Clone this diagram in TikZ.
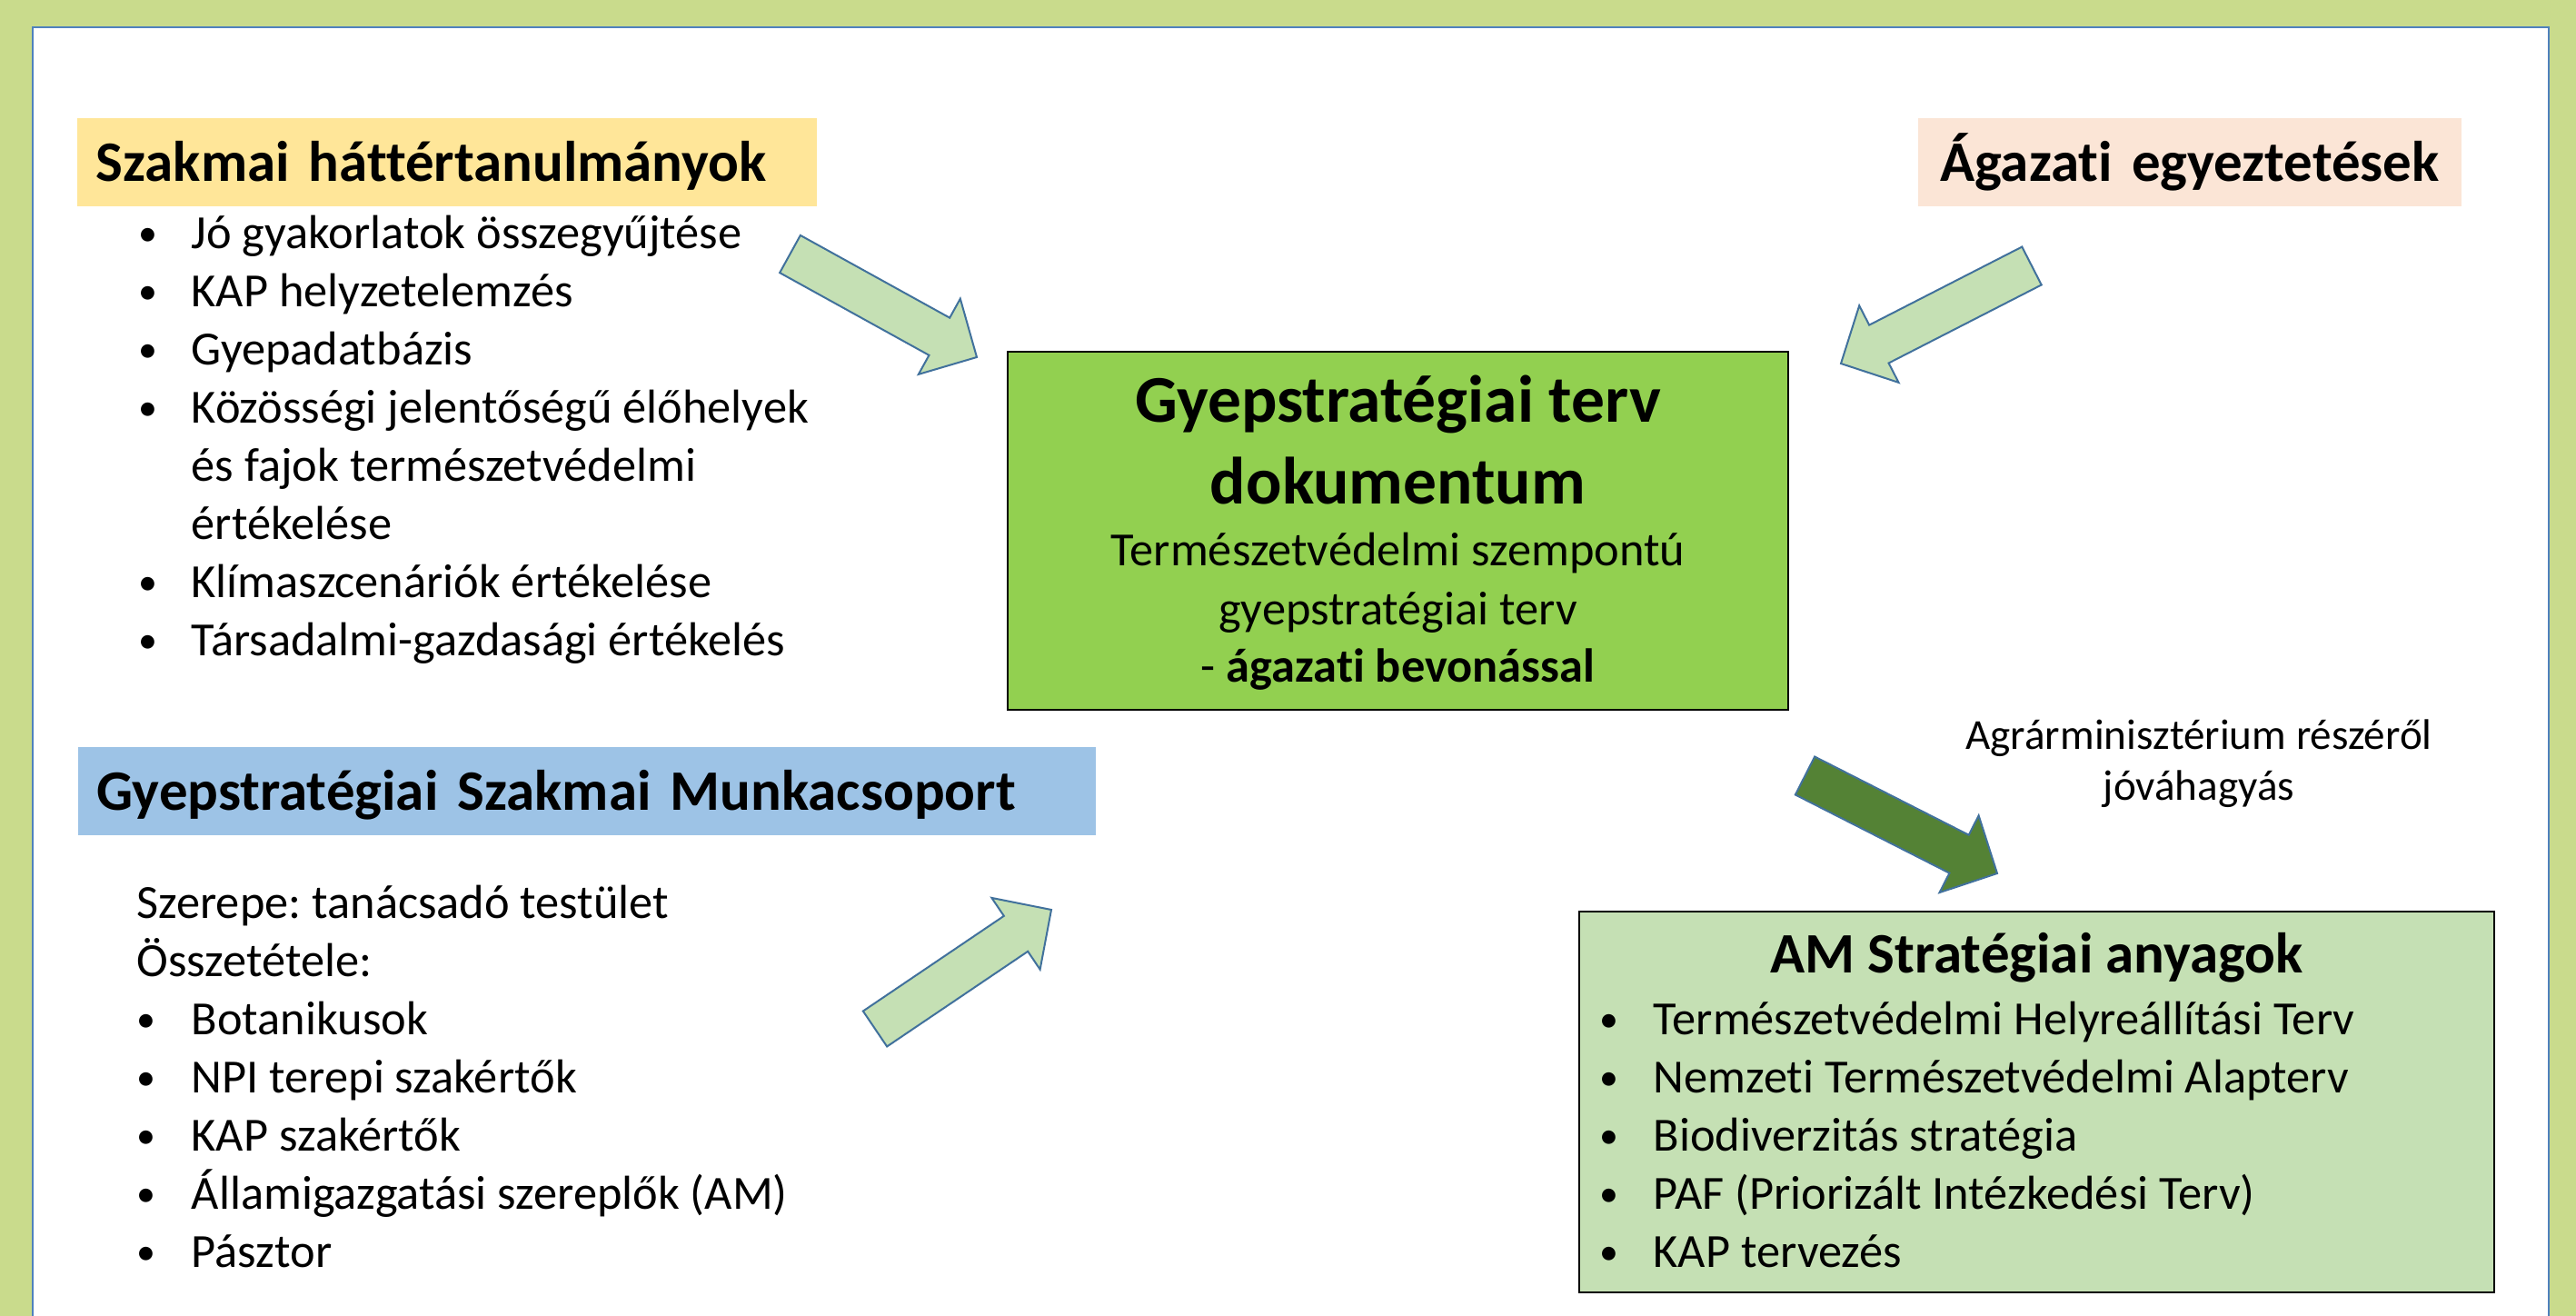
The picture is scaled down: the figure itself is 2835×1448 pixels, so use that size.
\documentclass[tikz,border=0pt]{standalone}
\usepackage{fontspec}
\setmainfont{Carlito}[Ligatures={TeX,NoCommon}]
\usepackage{graphicx}
\usepackage{tikz}
\usetikzlibrary{positioning,calc}
\usepackage{xcolor}
\frenchspacing

\definecolor{framegreen}{RGB}{201,219,140}
\definecolor{panelblue}{RGB}{79,129,189}
\definecolor{titleyellow}{RGB}{255,230,153}
\definecolor{titlepink}{RGB}{251,229,214}
\definecolor{titleblue}{RGB}{157,195,230}
\definecolor{docgreen}{RGB}{146,208,80}
\definecolor{amgreen}{RGB}{197,224,180}
\definecolor{arrowfill}{RGB}{197,224,180}
\definecolor{arrowline}{RGB}{65,113,156}
\definecolor{approvegreen}{RGB}{84,130,53}

\newcommand{\bodyfont}{\fontsize{14.9}{18.2}\selectfont}
\newcommand{\headfont}{\fontsize{17.9}{21.8}\selectfont\bfseries}
\newcommand{\docfont}{\fontsize{20.9}{25.6}\selectfont\bfseries}
\newcommand{\notefont}{\fontsize{13.4}{15.9}\selectfont}
\newcommand{\dotitem}{\raisebox{0.12ex}{\scalebox{0.8}{\textbullet}}}

\tikzset{
    headbox/.style={
        inner xsep=0.21cm,
        inner ysep=0.2cm,
        text height=0.5cm,
        text depth=0.07cm,
        font=\headfont,
        anchor=north west
    },
    mainbox/.style={
        draw=black,
        line width=0.02cm,
        inner sep=0pt
    },
    listtext/.style={
        font=\bodyfont,
        inner sep=0pt,
        anchor=base west
    },
    lightarrow/.style={
        fill=arrowfill,
        draw=arrowline,
        line width=0.02cm
    },
    darkarrow/.style={
        lightarrow,
        fill=approvegreen
    }
}

% block arrow from tail #2 to tip #3
\newcommand{\blockarrow}[3][lightarrow]{%
  \path ($(#3)!0.47cm!(#2)$) coordinate (neck);
  \draw[#1] ($(#2)!0.235cm!90:(#3)$) -- ($(neck)!0.235cm!90:(#3)$)
    -- ($(neck)!0.475cm!90:(#3)$) -- (#3)
    -- ($(neck)!0.475cm!-90:(#3)$) -- ($(neck)!0.235cm!-90:(#3)$)
    -- ($(#2)!0.235cm!-90:(#3)$) -- cycle;
}

\begin{document}
\begin{tikzpicture}[x=0.01cm, y=-0.01cm]
  \useasboundingbox (0,0) rectangle (2835,1448);

  % Frame and white panel
  \fill[framegreen] (0,0) rectangle (2835,1448);
  \filldraw[fill=white, draw=panelblue, line width=0.015cm] (36,30) rectangle (2805,1480);

  % Headings
  \node[headbox, fill=titleyellow, text width=7.72cm, align=left] (hatter) at (84,129) {Szakmai háttértanulmányok};
  \node[headbox, fill=titlepink, text width=5.56cm, align=center] (agazati) at (2110,129) {Ágazati egyeztetések};
  \node[headbox, fill=titleblue, text width=10.78cm, align=left] (munkacsoport) at (85,821) {Gyepstratégiai Szakmai Munkacsoport};

  % Background studies
  \node[listtext] (hatterlista) at (152,273) {%
    \begin{tabular}[t]{@{}p{0.58cm}@{}l@{}}
      \dotitem & Jó gyakorlatok összegyűjtése\\
      \dotitem & KAP helyzetelemzés\\
      \dotitem & Gyepadatbázis\\
      \dotitem & Közösségi jelentőségű élőhelyek\\
               & és fajok természetvédelmi\\
               & értékelése\\
      \dotitem & Klímaszcenáriók értékelése\\
      \dotitem & Társadalmi-gazdasági értékelés
    \end{tabular}};

  % Working group
  \node[listtext] (tagok) at (150,1010) {%
    \begin{tabular}[t]{@{}p{0.6cm}@{}l@{}}
      \multicolumn{2}{@{}l@{}}{Szerepe: tanácsadó testület}\\
      \multicolumn{2}{@{}l@{}}{Összetétele:}\\
      \dotitem & Botanikusok\\
      \dotitem & NPI terepi szakértők\\
      \dotitem & KAP szakértők\\
      \dotitem & Államigazgatási szereplők (AM)\\
      \dotitem & Pásztor
    \end{tabular}};

  % Central document
  \node[mainbox, fill=docgreen, minimum width=8.59cm, minimum height=3.94cm] (terv) at (1538.5,584) {};
  \node[font=\docfont, anchor=base] (tervcim) at ($(terv.north)+(0,79)$) {Gyepstratégiai terv};
  \node[font=\docfont, anchor=base] (tervdok) at ($(terv.north)+(0,169)$) {dokumentum};
  \node[font=\bodyfont, anchor=base] (tervsor1) at ($(terv.north)+(0,237)$) {Természetvédelmi szempontú};
  \node[font=\bodyfont, anchor=base] (tervsor2) at ($(terv.north)+(0,302)$) {gyepstratégiai terv};
  \node[font=\bodyfont, anchor=base] (tervsor3) at ($(terv.north)+(0,365)$) {- \textbf{ágazati bevonással}};

  % Ministry materials
  \node[mainbox, fill=amgreen, minimum width=10.07cm, minimum height=4.19cm] (amanyag) at (2241.5,1212.5) {};
  \node[font=\headfont, anchor=base] (amcim) at ($(amanyag.north)+(0,69)$) {AM Stratégiai anyagok};
  \node[listtext] (amlista) at (1760,1138) {%
    \begin{tabular}[t]{@{}p{0.59cm}@{}l@{}}
      \dotitem & Természetvédelmi Helyreállítási Terv\\
      \dotitem & Nemzeti Természetvédelmi Alapterv\\
      \dotitem & Biodiverzitás stratégia\\
      \dotitem & PAF (Priorizált Intézkedési Terv)\\
      \dotitem & KAP tervezés
    \end{tabular}};

  \node[font=\notefont, align=center, anchor=base] (jovahagyas) at (2420,880) {Agrárminisztérium részéről\\jóváhagyás};

  % Arrows
  \coordinate (hattertail) at (869.5,279.5);
  \coordinate (hattertip) at (1075,393);
  \coordinate (agazatitail) at (2236,292.5);
  \coordinate (agazatitip) at (2026,400);
  \coordinate (csoporttail) at (963,1132);
  \coordinate (csoporttip) at (1157,1001);
  \coordinate (amtail) at (1986.5,853.5);
  \coordinate (amtip) at (2198,961);

  \foreach \t/\h in {hattertail/hattertip, agazatitail/agazatitip, csoporttail/csoporttip} {
    \blockarrow{\t}{\h}
  }
  \blockarrow[darkarrow]{amtail}{amtip}
\end{tikzpicture}
\end{document}
